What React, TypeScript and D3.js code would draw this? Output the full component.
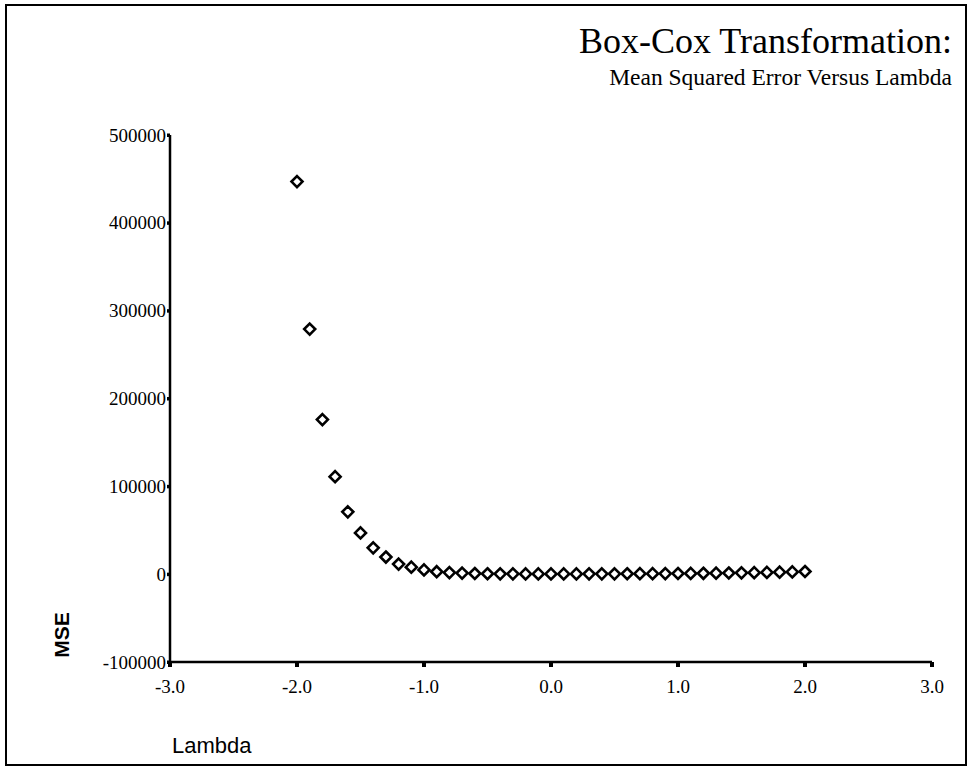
import React from 'react';
import * as d3 from 'd3';

const lambdas = [
  -2.0, -1.9, -1.8, -1.7, -1.6, -1.5, -1.4, -1.3, -1.2, -1.1, -1.0,
  -0.9, -0.8, -0.7, -0.6, -0.5, -0.4, -0.3, -0.2, -0.1, 0.0,
  0.1, 0.2, 0.3, 0.4, 0.5, 0.6, 0.7, 0.8, 0.9, 1.0,
  1.1, 1.2, 1.3, 1.4, 1.5, 1.6, 1.7, 1.8, 1.9, 2.0,
];
const mse = [
  447000, 279000, 176000, 111000, 71000, 47000, 30000, 19500, 11500, 8000, 4800,
  2800, 1800, 1200, 800, 500, 400, 350, 300, 300, 300,
  300, 320, 350, 380, 420, 470, 530, 600, 680, 780,
  900, 1000, 1150, 1300, 1500, 1700, 1950, 2250, 2600, 3000,
];
const xTicks = [-3, -2, -1, 0, 1, 2, 3];
const yTicks = [-100000, 0, 100000, 200000, 300000, 400000, 500000];

const SERIF = '"Liberation Serif", "Times New Roman", Times, serif';
const SANS = '"Liberation Sans", Arial, Helvetica, sans-serif';

export default function App() {
  const W = 971, H = 769;
  const x = d3.scaleLinear().domain([-3, 3]).range([170, 932]);
  const y = d3.scaleLinear().domain([-100000, 500000]).range([662, 135]);
  const [x0, x1] = x.range();
  const [y0, y1] = y.range();
  const r = 5.5;
  const diamond = `M0,${-r}L${r},0L0,${r}L${-r},0Z`;

  return (
    <svg width={W} height={H} style={{ position: 'absolute', left: 0, top: 0, background: '#fff' }}>
      <rect x={6} y={5} width={960} height={760} fill="none" stroke="#000" strokeWidth={2} />

      {/* titles */}
      <text x={952} y={53} textAnchor="end" fontFamily={SERIF} fontSize={36} fill="#000">
        Box-Cox Transformation:
      </text>
      <text x={952} y={85} textAnchor="end" fontFamily={SERIF} fontSize={23.5} fill="#000">
        Mean Squared Error Versus Lambda
      </text>

      {/* axes */}
      <line x1={x0} x2={x0} y1={y1} y2={y0} stroke="#000" strokeWidth={2.5} />
      <line x1={x0} x2={x1} y1={y0} y2={y0} stroke="#000" strokeWidth={2.5} />

      {yTicks.map(t => (
        <g key={t}>
          <rect x={x0 - 3} y={y(t) - 1.5} width={3} height={3.5} fill="#000" />
          <text x={x0 - 4} y={y(t)} dy="0.35em" textAnchor="end" fontFamily={SERIF} fontSize={19} fill="#000">
            {String(t)}
          </text>
        </g>
      ))}

      {xTicks.map(t => (
        <g key={t}>
          <rect x={x(t) - 2} y={y0} width={4} height={5} fill="#000" />
          <text x={x(t)} y={y0 + 31} textAnchor="middle" fontFamily={SERIF} fontSize={19} fill="#000">
            {t.toFixed(1)}
          </text>
        </g>
      ))}

      {/* axis titles */}
      <text transform={`translate(69,635) rotate(-90)`} textAnchor="middle" fontFamily={SANS} fontSize={21} fontWeight="bold" fill="#000">
        MSE
      </text>
      <text x={172} y={753} textAnchor="start" fontFamily={SANS} fontSize={22} fill="#000">
        Lambda
      </text>

      {/* points */}
      {lambdas.map((l, i) => (
        <path key={i} d={diamond} transform={`translate(${x(l)},${y(mse[i])})`}
          fill="#fff" stroke="#000" strokeWidth={2.6} />
      ))}
    </svg>
  );
}
